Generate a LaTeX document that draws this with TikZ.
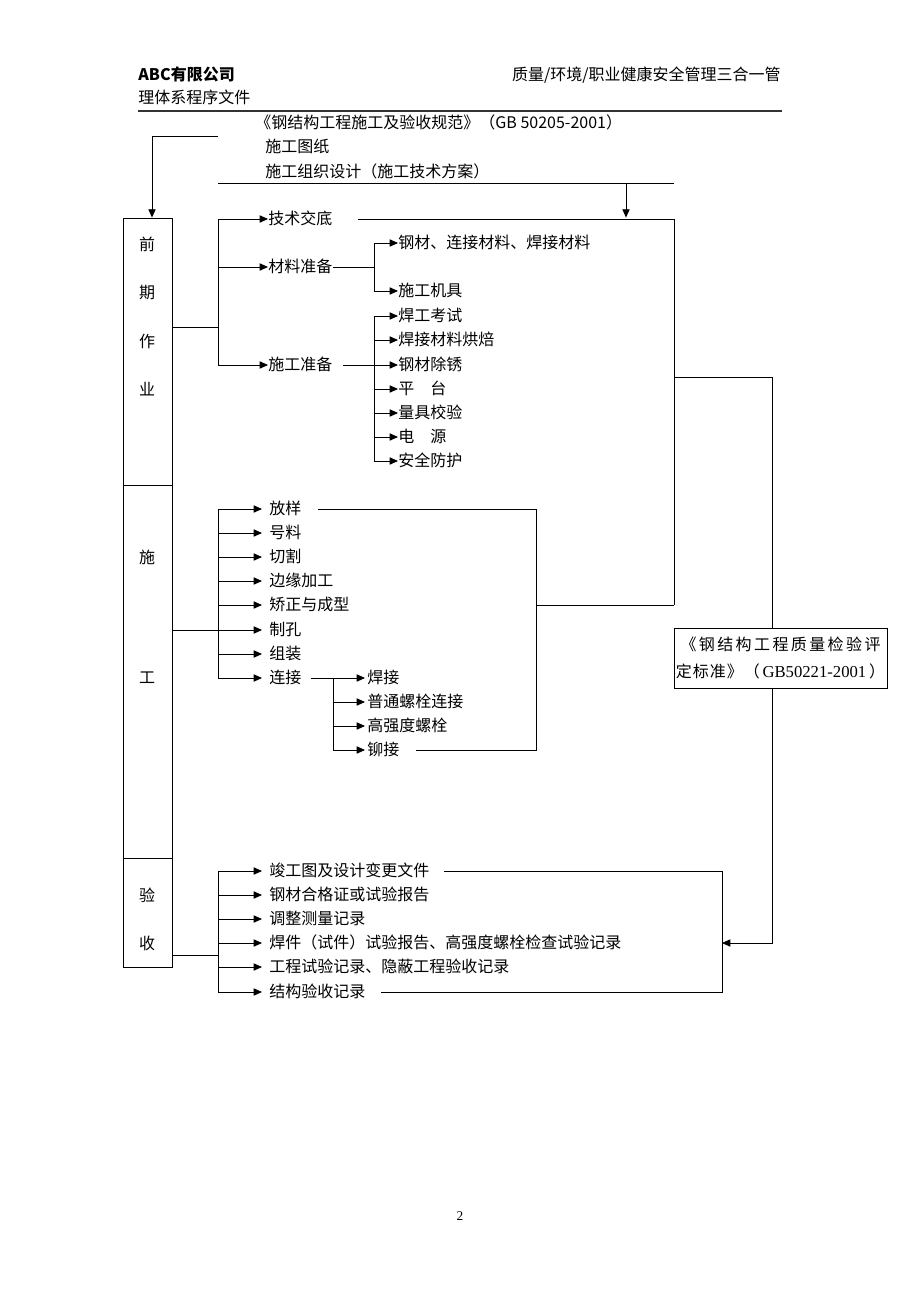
\documentclass[tikz,border=0pt]{standalone}
\usepackage{fontspec}
\setmainfont{Noto Sans CJK SC}
\newfontfamily\tnr{Liberation Serif}
\usetikzlibrary{arrows.meta}
\begin{document}
\begin{tikzpicture}[x=0.75pt,y=-0.75pt,line width=0.65pt,
  arr/.style={-{Triangle[length=6.2pt,width=5.4pt]}},
  lbl/.style={anchor=west,inner sep=0pt,text height=9.8pt,text depth=2.2pt,font=\fontsize{12pt}{14pt}\selectfont},
  ch/.style={inner sep=0pt,font=\fontsize{12pt}{14pt}\selectfont},
  sidebox/.style={draw,minimum width=36.75pt,inner sep=0pt},
]
\useasboundingbox (0,0) rectangle (920,1302);

% header
\node[lbl,font=\bfseries\fontsize{12pt}{14pt}\selectfont] (h1) at (138,75) {ABC有限公司};
\node[lbl,anchor=east] (h2) at (781,75) {质量/环境/职业健康安全管理三合一管};
\node[lbl] (h3) at (138,98) {理体系程序文件};
\coordinate (r1) at (138,111);
\coordinate (r2) at (782,111);
\draw[line width=1.4pt,black!80] (r1) -- (r2);

% top inputs
\node[lbl] (s1) at (255,123) {《钢结构工程施工及验收规范》（GB 50205-2001）};
\node[lbl] (s2) at (265,147) {施工图纸};
\node[lbl] (s3) at (265,172) {施工组织设计（施工技术方案）};

% side boxes
\node[sidebox,minimum height=200.25pt] (b1) at (147.5,351.5) {};
\node[sidebox,minimum height=279.75pt] (b2) at (147.5,671.5) {};
\node[sidebox,minimum height=81.75pt] (b3) at (147.5,912.5) {};
\node[ch] (c1) at (147,244) {前};
\node[ch] (c2) at (147,293) {期};
\node[ch] (c3) at (147,341) {作};
\node[ch] (c4) at (147,389) {业};
\node[ch] (c5) at (147,557) {施};
\node[ch] (c6) at (147,678) {工};
\node[ch] (c7) at (147,895) {验};
\node[ch] (c8) at (147,943) {收};

% top connectors
\coordinate (tl) at (218,136);
\coordinate (tc) at (152,136);
\draw[arr] (tl) -- (tc) -- (tc |- b1.north);
\coordinate (m1) at (218,183);
\coordinate (m2) at (674,183);
\coordinate (ad) at (626,183);
\draw (m1) -- (m2);
\draw[arr] (ad) -- (ad |- b1.north);

% ---- 前期作业
\coordinate (sv) at (218,0);
\node[lbl] (t1) at (268,219) {技术交底};
\node[lbl] (t2) at (268,267) {材料准备};
\node[lbl] (t3) at (268,365) {施工准备};
\coordinate (j1) at (218,327);
\draw (j1 -| b1.east) -- (j1);
\draw (sv |- t1.west) -- (sv |- t3.west);
\foreach \n in {1,2,3} { \draw[arr] (sv |- t\n.west) -- (t\n.west); }

\coordinate (mv) at (374,0);
\node[lbl] (u1) at (398,243) {钢材、连接材料、焊接材料};
\node[lbl] (u2) at (398,291) {施工机具};
\draw (t2.east) -- (mv |- t2.east);
\draw (mv |- u1.west) -- (mv |- u2.west);
\foreach \n in {1,2} { \draw[arr] (mv |- u\n.west) -- (u\n.west); }

\foreach \n/\y/\t in {1/316/焊工考试,2/340/焊接材料烘焙,3/365/钢材除锈,4/389/平　台,5/413/量具校验,6/437/电　源,7/461/安全防护}
  { \node[lbl] (v\n) at (398,\y) {\t}; \draw[arr] (mv |- v\n.west) -- (v\n.west); }
\draw ([xshift=7.5pt]t3.east) -- (mv |- t3.east);
\draw (mv |- v1.west) -- (mv |- v7.west);

% right bracket of 前期
\coordinate (rb) at (674,0);
\draw ([xshift=19pt]t1.east) -- (rb |- t1.east) -- (674,605);

% ---- 施工
\foreach \n/\y/\t in {1/509/放样,2/533/号料,3/557/切割,4/581/边缘加工,5/605/矫正与成型,6/630/制孔,7/654/组装,8/678/连接}
  { \node[lbl] (w\n) at (269,\y) {\t}; \draw[arr] (sv |- w\n.west) -- ([xshift=-5.25pt]w\n.west); }
\coordinate (j2) at (218,630);
\draw (j2 -| b2.east) -- (j2);
\draw (sv |- w1.west) -- (sv |- w8.west);

\coordinate (cv) at (333,0);
\foreach \n/\y/\t in {1/678/焊接,2/702/普通螺栓连接,3/726/高强度螺栓,4/750/铆接}
  { \node[lbl] (x\n) at (367,\y) {\t}; \draw[arr] (cv |- x\n.west) -- ([xshift=-1.5pt]x\n.west); }
\draw ([xshift=6.75pt]w8.east) -- (cv |- w8.east);
\draw (cv |- x1.west) -- (cv |- x4.west);

\coordinate (sb) at (536,0);
\coordinate (sj) at (536,605);
\draw ([xshift=12pt]w1.east) -- (sb |- w1.east) -- (sb |- x4.east) -- ([xshift=12pt]x4.east);
\draw (sj) -- (sj -| rb);

% standard box
\node[draw,minimum width=159.75pt,minimum height=45pt,inner sep=0pt,align=center,
      font=\fontsize{12pt}{20pt}\selectfont] (std) at (780.5,658)
  {{\addfontfeature{LetterSpace=15}《钢结构工程质量检验评}\\
   {\addfontfeature{LetterSpace=6}定标准》（}{\tnr\fontsize{12.5pt}{20pt}\selectfont\,GB50221-2001\,}{）}};
\coordinate (sv2) at (772,377);
\draw (rb |- sv2) -- (sv2) -- (sv2 |- std.north);

% ---- 验收
\foreach \n/\y/\t in {1/871/竣工图及设计变更文件,2/895/钢材合格证或试验报告,3/919/调整测量记录,4/943/焊件（试件）试验报告、高强度螺栓检查试验记录,5/967/工程试验记录、隐蔽工程验收记录,6/992/结构验收记录}
  { \node[lbl] (y\n) at (269,\y) {\t}; \draw[arr] (sv |- y\n.west) -- ([xshift=-5.25pt]y\n.west); }
\coordinate (j3) at (218,955);
\draw (j3 -| b3.east) -- (j3);
\draw (sv |- y1.west) -- (sv |- y6.west);

\coordinate (ab) at (722,0);
\draw ([xshift=10.5pt]y1.east) -- (ab |- y1.east) -- (ab |- y6.east) -- ([xshift=11pt]y6.east);
\coordinate (ak) at (772,943);
\draw[arr] (sv2 |- std.south) -- (ak) -- (ak -| ab);

% page number
\node[inner sep=0pt,font=\tnr\fontsize{10pt}{12pt}\selectfont] (pg) at (460,1216) {2};
\end{tikzpicture}
\end{document}
